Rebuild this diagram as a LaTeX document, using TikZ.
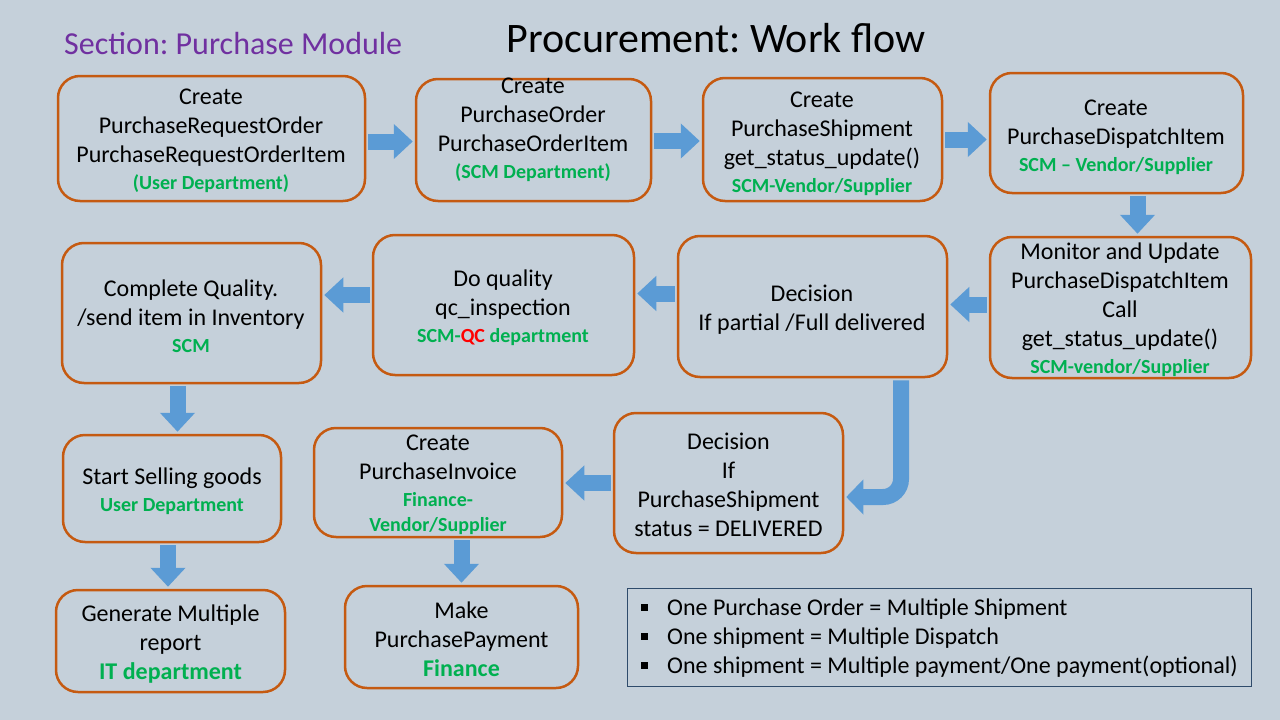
\documentclass[tikz,border=0pt]{standalone}
\usepackage{fontspec}
\setmainfont{Carlito}
\usetikzlibrary{arrows.meta,calc}
\frenchspacing
\definecolor{bg}{RGB}{197,208,218}
\definecolor{boxc}{HTML}{C55A11}
\definecolor{arr}{HTML}{5B9BD5}
\definecolor{grn}{HTML}{00B050}
\definecolor{purp}{HTML}{7030A0}
\definecolor{notec}{HTML}{2F4B6B}
\definecolor{qcred}{HTML}{FF0000}
\tikzset{
  box/.style={draw=boxc, line width=2.5pt, rounded corners=22pt, inner sep=0pt},
  txt/.style={align=center, inner sep=0pt, yshift=-2pt, font=\fontsize{24}{29}\selectfont},
  blk/.style={draw=arr, line width=16pt, -{Triangle[length=19pt,width=34pt]}, shorten <=2pt, shorten >=2pt},
}
\newcommand\gr[1]{{\color{grn}\fontsize{20}{24}\selectfont\bfseries #1}}
\newcommand\grb[1]{{\color{grn}\fontsize{24}{29}\selectfont\bfseries #1}}
\newcommand\bul{\makebox[26pt][l]{\rule[4pt]{7pt}{7pt}}}
\begin{document}
\begin{tikzpicture}[x=1pt,y=-1pt]
\fill[bg] (0,0) rectangle (1280,720);
\useasboundingbox (0,0) rectangle (1280,720);

% titles
\node[font=\fontsize{42}{50}\selectfont, inner sep=0pt] (title) at (716,38) {Procurement: Work flow};
\node[font=\fontsize{32}{38}\selectfont, text=purp, anchor=west, inner sep=0pt] (section) at (64,44) {Section: Purchase Module};

% boxes
\node[box, minimum width=307pt, minimum height=125pt] (b1) at (211.5,138.5) {};
\node[box, minimum width=235pt, minimum height=122pt] (b2) at (533.5,140) {};
\node[box, minimum width=239pt, minimum height=123pt] (b3) at (822.5,139.5) {};
\node[box, minimum width=253pt, minimum height=120pt] (b4) at (1116.5,133) {};
\node[box, minimum width=261pt, minimum height=141pt] (b5) at (1120.5,307.5) {};
\node[box, minimum width=269pt, minimum height=141pt] (b6) at (812.5,306.5) {};
\node[box, minimum width=261pt, minimum height=140pt] (b7) at (503.5,305) {};
\node[box, minimum width=259pt, minimum height=140pt] (b8) at (191.5,313) {};
\node[box, minimum width=218pt, minimum height=107pt] (b9) at (172,488.5) {};
\node[box, minimum width=229pt, minimum height=140pt] (b10) at (728.5,483) {};
\node[box, minimum width=248pt, minimum height=109pt] (b11) at (438,482.5) {};
\node[box, minimum width=229pt, minimum height=102pt] (b12) at (170.5,641) {};
\node[box, minimum width=233pt, minimum height=102pt] (b13) at (461.5,637) {};

% texts
\node[txt] (t1) at (211,139) {Create\\PurchaseRequestOrder\\PurchaseRequestOrderItem\\[-2pt]\gr{(User Department)}};
\node[txt] (t2) at (533,127.5) {Create\\PurchaseOrder\\PurchaseOrderItem\\[-2pt]\gr{(SCM Department)}};
\node[txt] (t3) at (822,142) {Create\\PurchaseShipment\\get\_status\_update()\\[-2pt]\gr{SCM-Vendor/Supplier}};
\node[txt] (t4) at (1116,135) {Create\\PurchaseDispatchItem\\[-2pt]\gr{SCM -- Vendor/Supplier}};
\node[txt] (t5) at (1120,308) {Monitor and Update\\PurchaseDispatchItem\\Call\\get\_status\_update()\\[-2pt]\gr{SCM-vendor/Supplier}};
\node[txt] (t6) at (812,307.5) {Decision\\If partial /Full delivered};
\node[txt] (t7) at (503,306) {Do quality\\qc\_inspection\\[-2pt]\gr{SCM-{\color{qcred}QC} department}};
\node[txt] (t8) at (191,314) {Complete Quality.\\/send item in Inventory\\[-2pt]\gr{SCM}};
\node[txt] (t9) at (172,489.5) {Start Selling goods\\[-2pt]\gr{User Department}};
\node[txt] (t10) at (728.5,483) {Decision\\If\\PurchaseShipment\\status = DELIVERED};
\node[txt] (t11) at (438,483) {Create\\PurchaseInvoice\\[-2pt]\gr{Finance-}\\[-4pt]\gr{Vendor/Supplier}};
\node[txt] (t12) at (170.5,642) {Generate Multiple\\report\\\grb{IT department}};
\node[txt] (t13) at (461.5,637) {Make\\PurchasePayment\\\grb{Finance}};

% note box
\node[draw=notec, line width=1pt, minimum width=624pt, minimum height=98pt, inner sep=0pt] (nb) at (939,637) {};
\node[txt, align=left, anchor=west] (nt) at (641,636) {\bul One Purchase Order = Multiple Shipment\\\bul One shipment = Multiple Dispatch\\\bul One shipment = Multiple payment/One payment(optional)};

% arrows
\draw[blk] ([yshift=-3pt]b1.east) -- ([yshift=-3pt]b1.east -| b2.west);
\draw[blk] ([yshift=-1pt]b2.east) -- ([yshift=-1pt]b2.east -| b3.west);
\draw[blk] (b3.east) -- (b3.east -| b4.west);
\draw[blk] ([xshift=21pt]b4.south) -- ([xshift=21pt]b4.south |- b5.north);
\draw[blk] ([yshift=3pt]b5.west) -- ([yshift=3pt]b5.west -| b6.east);
\draw[blk] ([yshift=13pt]b6.west) -- ([yshift=13pt]b6.west -| b7.east);
\draw[blk] ([yshift=10pt]b7.west) -- ([yshift=10pt]b7.west -| b8.east);
\draw[blk] ([xshift=-14pt]b8.south) -- ([xshift=-14pt]b8.south |- b9.north);
\draw[blk] ([xshift=-4pt]b9.south) -- ([xshift=-4pt]b9.south |- b12.north);
\draw[blk] (b10.west) -- (b10.west -| b11.east);
\draw[blk] ([xshift=23.5pt]b11.south) -- ([xshift=23.5pt]b11.south |- b13.north);
\draw[blk, rounded corners=18pt, -{Triangle[length=17pt,width=34pt]}] ([xshift=88.5pt]b6.south) |- ([yshift=-14pt]b10.east);
\end{tikzpicture}
\end{document}
